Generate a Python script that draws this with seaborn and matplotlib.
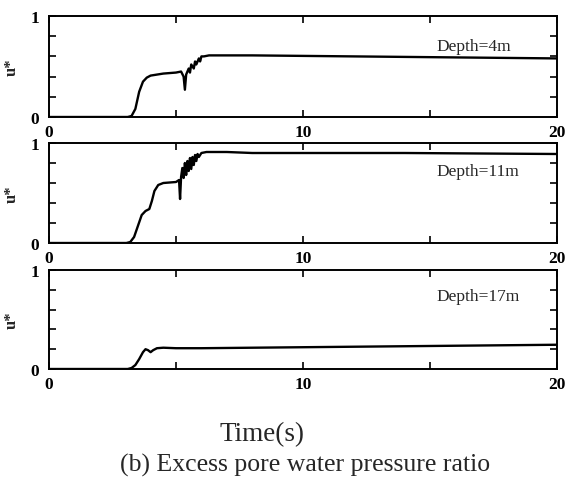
import matplotlib
matplotlib.use("Agg")
import matplotlib.pyplot as plt
import seaborn as sns
import pandas as pd

# Excess pore water pressure ratio u* versus time at three depths
t_4m = [0, 3.1, 3.25, 3.4, 3.55, 3.7, 3.85, 4.0, 4.5, 5.0,
        5.2, 5.3, 5.35, 5.4, 5.5, 5.55, 5.6, 5.7, 5.75, 5.8,
        5.9, 5.95, 6.0, 6.1, 6.3, 8, 12, 16, 20]
u_4m = [0, 0, 0.01, 0.08, 0.25, 0.35, 0.39, 0.41, 0.43, 0.44,
        0.45, 0.40, 0.27, 0.42, 0.48, 0.44, 0.52, 0.48, 0.55, 0.52,
        0.58, 0.55, 0.60, 0.60, 0.61, 0.61, 0.60, 0.59, 0.58]

t_11m = [0, 3.05, 3.2, 3.35, 3.5, 3.65, 3.8, 3.95, 4.05, 4.15,
         4.3, 4.5, 5.0, 5.12, 5.16, 5.2, 5.25, 5.3, 5.35, 5.4,
         5.45, 5.5, 5.55, 5.6, 5.65, 5.7, 5.75, 5.8, 5.85, 5.9,
         6.0, 6.2, 7, 8, 10, 14, 20]
u_11m = [0, 0, 0.01, 0.06, 0.17, 0.28, 0.32, 0.34, 0.42, 0.52,
         0.58, 0.60, 0.61, 0.63, 0.44, 0.66, 0.75, 0.65, 0.80, 0.68,
         0.82, 0.72, 0.85, 0.74, 0.86, 0.78, 0.88, 0.82, 0.89, 0.86,
         0.90, 0.91, 0.91, 0.90, 0.90, 0.90, 0.89]

t_17m = [0, 3.1, 3.25, 3.4, 3.55, 3.7, 3.8, 3.9, 4.0, 4.1,
         4.25, 4.5, 5, 6, 8, 12, 16, 20]
u_17m = [0, 0, 0.01, 0.04, 0.10, 0.17, 0.20, 0.19, 0.17, 0.19,
         0.21, 0.215, 0.21, 0.21, 0.215, 0.225, 0.235, 0.245]

depth_labels = ["Depth=4m", "Depth=11m", "Depth=17m"]
x_ticks = [0, 5, 10, 15, 20]
x_tick_labels = ["0", "", "10", "", "20"]
y_ticks = [0, 0.2, 0.4, 0.6, 0.8, 1.0]
y_tick_labels = ["0", "", "", "", "", "1"]

sns.set_style("ticks")
plt.rcParams["font.family"] = ["Liberation Serif", "DejaVu Serif"]

fig = plt.figure(figsize=(5.65, 4.81), dpi=100)
W, H = 565, 481
panel_px = [(17, 118), (144, 244), (271, 370)]
left_px, right_px = 49, 557

series = [(t_4m, u_4m), (t_11m, u_11m), (t_17m, u_17m)]
label_y = [0.70, 0.72, 0.74]

for (top, bot), (t, u), lab, ly in zip(panel_px, series, depth_labels, label_y):
    ax = fig.add_axes([left_px / W, 1 - bot / H, (right_px - left_px) / W, (bot - top) / H])
    df = pd.DataFrame({"t": t, "u": u})
    sns.lineplot(data=df, x="t", y="u", ax=ax, color="black", linewidth=1.7,
                 sort=False, estimator=None)
    ax.set_xlim(0, 20)
    ax.set_ylim(0, 1)
    ax.set_xticks(x_ticks)
    ax.set_xticklabels(x_tick_labels, fontsize=12.5, fontweight="bold")
    ax.set_yticks(y_ticks)
    ax.set_yticklabels(y_tick_labels, fontsize=12.5, fontweight="bold")
    ax.tick_params(axis="both", direction="in", length=5, width=1.2,
                   top=True, right=True, colors="black")
    ax.tick_params(axis="x", pad=5)
    ax.tick_params(axis="y", pad=7)
    for s in ax.spines.values():
        s.set_linewidth(1.4)
        s.set_color("black")
    ax.set_xlabel("")
    ax.set_ylabel("u*", fontsize=12, fontweight="bold")
    ax.yaxis.set_label_coords(-0.058, 0.5)
    ax.text(0.762, ly, lab, transform=ax.transAxes, fontsize=12.5,
            ha="left", va="center")

fig.text(262 / W, 1 - 435 / H, "Time(s)", fontsize=19.5, ha="center", va="center")
fig.text(305 / W, 1 - 465 / H, "(b) Excess pore water pressure ratio",
         fontsize=18.5, ha="center", va="center")

fig.savefig("out.png", dpi=100, facecolor="white")
